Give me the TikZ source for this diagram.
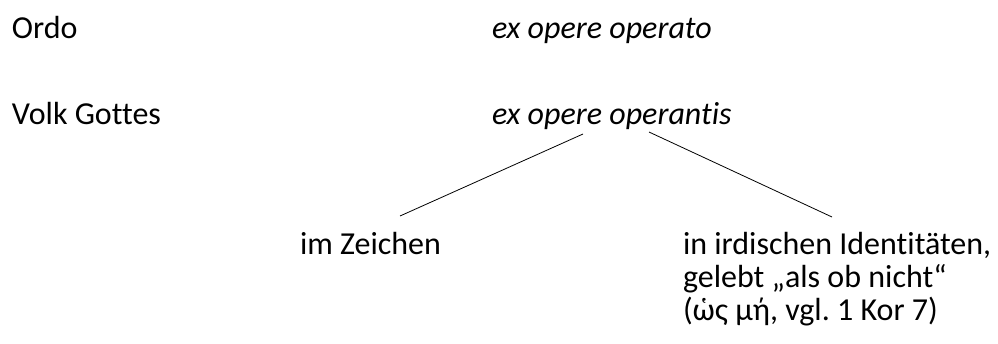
\documentclass[tikz,border=0pt]{standalone}
\usepackage{fontspec}
\setmainfont{Carlito}[Ligatures=NoCommon]
\frenchspacing
\begin{document}
\begin{tikzpicture}[x=1pt,y=-1pt,
  lbl/.style={anchor=base west,inner sep=0pt,outer sep=0pt,
    font=\fontsize{32}{33}\selectfont},
  branch/.style={draw=black,line width=0.8pt}]
\useasboundingbox[fill=white] (0,0) rectangle (998,343);
% left column
\node[lbl] (ordo) at (12,38) {Ordo};
\node[lbl] (volk) at (12,124) {Volk Gottes};
% right column
\node[lbl] (operato) at (492,38) {\itshape ex opere operato};
\node[lbl] (operantis) at (492,124) {\itshape ex opere operantis};
% branches
\node[lbl] (zeichen) at (300,254) {im Zeichen};
\node[lbl] (ident) at (683,254) {\begin{tabular}[t]{@{}l@{}}in irdischen Identitäten,\\ gelebt „als ob nicht“\\ (ὡς μή, vgl. 1 Kor 7)\end{tabular}};
\coordinate (l1) at (583,134);
\coordinate (l2) at (400,216);
\coordinate (r1) at (649,132);
\coordinate (r2) at (832,217);
\draw[branch] (l1) -- (l2);
\draw[branch] (r1) -- (r2);
\end{tikzpicture}
\end{document}
